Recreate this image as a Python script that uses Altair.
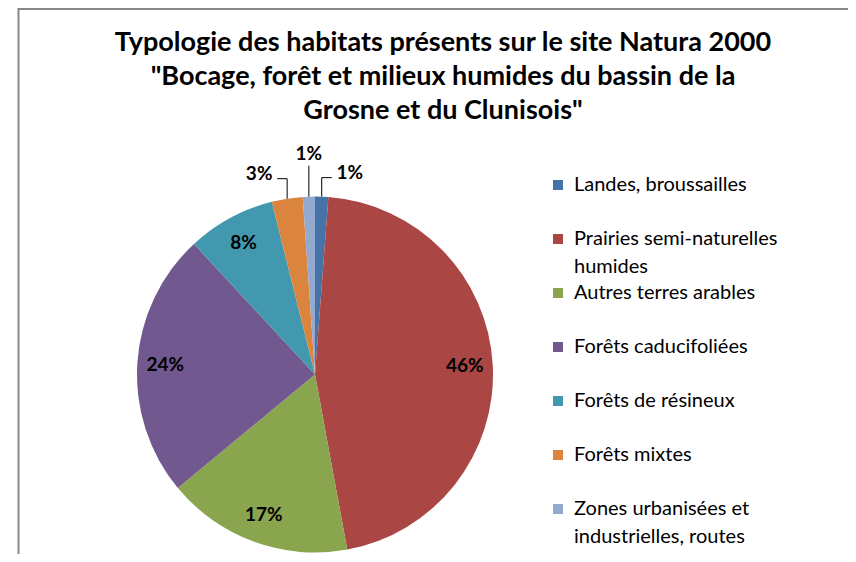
import numpy as np
import pandas as pd
import altair as alt

# ---------------- data ----------------
categories = [
    "Landes, broussailles",
    "Prairies semi-naturelles humides",
    "Autres terres arables",
    "Forêts caducifoliées",
    "Forêts de résineux",
    "Forêts mixtes",
    "Zones urbanisées et industrielles, routes",
]
legend_lines = [
    ["Landes, broussailles"],
    ["Prairies semi-naturelles", "humides"],
    ["Autres terres arables"],
    ["Forêts caducifoliées"],
    ["Forêts de résineux"],
    ["Forêts mixtes"],
    ["Zones urbanisées et", "industrielles, routes"],
]
values = [1.2, 45.9, 16.9, 24.1, 8.0, 2.8, 1.1]
title_lines = [
    "Typologie des habitats présents sur le site Natura 2000",
    "\"Bocage, forêt et milieux humides du bassin de la",
    "Grosne et du Clunisois\"",
]

# ---------------- style / layout ----------------
colors = ["#4572A7", "#AA4643", "#89A54E", "#71588F", "#4198AF", "#DB843D", "#93A9CF"]
FONT = "Lato"
W, H = 840, 546
CX, CY, R = 307, 366.5, 178
R_LABEL = 150
# callouts for small slices: (rise above pie edge, horizontal run)
callouts = {
    "Landes, broussailles": (19, 10),
    "Forêts mixtes": (20, -10),
    "Zones urbanisées et industrielles, routes": (31, 0),
}

# ---------------- derived tables ----------------
vals = np.array(values, dtype=float)
cum_end = np.cumsum(vals) / vals.sum()
cum_start = cum_end - vals / vals.sum()
mid = (cum_start + cum_end) / 2 * 2 * np.pi
pct = [f"{int(round(v))}%" for v in values]

df = pd.DataFrame({"cat": categories, "value": values, "idx": range(len(values)), "pct": pct})

inside = []
seg = []
outside = []
for i, c in enumerate(categories):
    a = mid[i]
    if c in callouts:
        rise, run = callouts[c]
        ex, ey = CX + R * np.sin(a), CY - R * np.cos(a)
        ely = ey - rise
        seg.append({"x": ex, "y": ey, "x2": ex, "y2": ely})
        if run != 0:
            seg.append({"x": ex, "y": ely, "x2": ex + run, "y2": ely})
            lx = ex + run + (18 if run > 0 else -18)
            ly = ely - 5
        else:
            lx, ly = ex, ely - 12
        outside.append({"x": lx, "y": ly, "t": pct[i]})
    else:
        inside.append({"x": CX + R_LABEL * np.sin(a), "y": CY - R_LABEL * np.cos(a), "t": pct[i]})

leg_sq = pd.DataFrame({"cat": categories, "y": [177 + 54 * i for i in range(len(categories))]})
leg_txt = pd.DataFrame(
    [{"t": line, "y": 177 + 54 * i + 28 * j} for i, lines in enumerate(legend_lines) for j, line in enumerate(lines)]
)
title_df = pd.DataFrame({"t": title_lines, "y": [35 + 34 * k for k in range(len(title_lines))]})

color_scale = alt.Scale(domain=categories, range=colors)
one = pd.DataFrame({"a": [0]})

border_top = alt.Chart(one).mark_rule(color="#878787", strokeWidth=2).encode(
    x=alt.value(10), x2=alt.value(W), y=alt.value(1)
)
border_left = alt.Chart(one).mark_rule(color="#878787", strokeWidth=2).encode(
    x=alt.value(10.5), y=alt.value(0), y2=alt.value(H)
)

pie = alt.Chart(df).mark_arc(radius=R).encode(
    theta=alt.Theta("value:Q", stack=True),
    color=alt.Color("cat:N", scale=color_scale, legend=None),
    order=alt.Order("idx:Q"),
    x=alt.value(CX),
    y=alt.value(CY),
)

in_labels = alt.Chart(pd.DataFrame(inside)).mark_text(
    font=FONT, fontSize=19, fontWeight="bold", color="#000000", baseline="middle", align="center"
).encode(x=alt.X("x:Q", scale=None, axis=None), y=alt.Y("y:Q", scale=None, axis=None), text="t:N")

leaders = alt.Chart(pd.DataFrame(seg)).mark_rule(color="#000000", strokeWidth=1).encode(
    x=alt.X("x:Q", scale=None, axis=None), y=alt.Y("y:Q", scale=None, axis=None), x2="x2:Q", y2="y2:Q"
)

out_labels = alt.Chart(pd.DataFrame(outside)).mark_text(
    font=FONT, fontSize=19, fontWeight="bold", color="#000000", baseline="middle", align="center"
).encode(x=alt.X("x:Q", scale=None, axis=None), y=alt.Y("y:Q", scale=None, axis=None), text="t:N")

legend_sq = alt.Chart(leg_sq).mark_square(size=100, opacity=1).encode(
    x=alt.value(550),
    y=alt.Y("y:Q", scale=None, axis=None),
    color=alt.Color("cat:N", scale=color_scale, legend=None),
)
legend_text = alt.Chart(leg_txt).mark_text(
    font=FONT, fontSize=20, color="#000000", align="left", baseline="middle"
).encode(x=alt.value(566), y=alt.Y("y:Q", scale=None, axis=None), text="t:N")

title = alt.Chart(title_df).mark_text(
    font=FONT, fontSize=27, fontWeight="bold", color="#000000", align="center", baseline="middle"
).encode(x=alt.value(435), y=alt.Y("y:Q", scale=None, axis=None), text="t:N")

chart = (
    alt.layer(border_top, border_left, pie, in_labels, leaders, out_labels, legend_sq, legend_text, title)
    .properties(width=W, height=H, autosize="none", padding=0, background="#ffffff")
    .configure_view(stroke=None)
)

chart.save("out.html", embed_options={"renderer": "svg", "actions": False})
